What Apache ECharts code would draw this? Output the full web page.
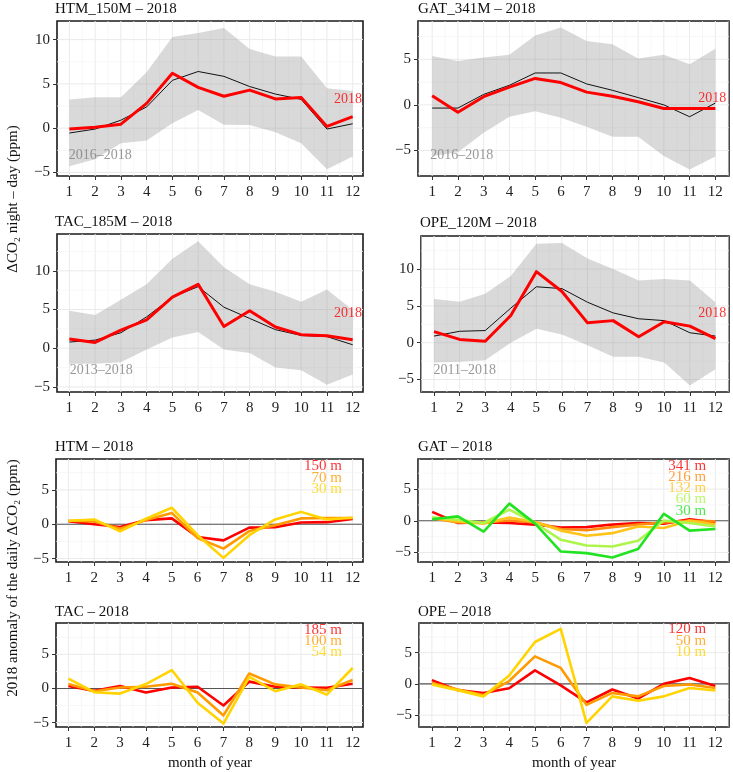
<!DOCTYPE html>
<html><head><meta charset="utf-8">
<script src="https://cdn.jsdelivr.net/npm/echarts@6/dist/echarts.min.js"></script>
<style>html,body{margin:0;padding:0;background:#fff}#c{width:733px;height:772px}</style>
</head><body><div id="c"></div><script>
// ---------- data ----------
const months = [1,2,3,4,5,6,7,8,9,10,11,12];
const yTicksWide = [-5, 0, 5, 10];
const yTicksNarrow = [-5, 0, 5];

// HTM_150M
const htm150Upper = [3.25, 3.5, 3.5, 6.3, 10.3, 10.75, 11.3, 8.95, 8.1, 8.1, 4.5, 4.2];
const htm150Lower = [-4.3, -3.5, -1.7, -1.4, 0.55, 2.05, 0.4, 0.35, -0.45, -1.7, -4.65, -3.2];
const htm150Mean  = [-0.55, -0.1, 0.9, 2.4, 5.4, 6.4, 5.85, 4.7, 3.85, 3.25, -0.1, 0.5];
const htm150Y2018 = [-0.1, 0.1, 0.45, 2.8, 6.2, 4.6, 3.6, 4.3, 3.3, 3.45, 0.2, 1.3];
// GAT_341M
const gat341Upper = [5.36, 4.8, 5.2, 5.5, 7.6, 8.5, 7.0, 6.65, 5.1, 5.5, 4.45, 6.15];
const gat341Lower = [-5.6, -5.2, -3.05, -1.3, -0.7, -1.4, -2.4, -3.5, -3.5, -5.6, -7.1, -5.65];
const gat341Mean  = [-0.35, -0.35, 1.15, 2.15, 3.5, 3.5, 2.3, 1.6, 0.8, 0.0, -1.3, 0.2];
const gat341Y2018 = [1.0, -0.8, 0.9, 1.95, 2.9, 2.45, 1.4, 0.95, 0.35, -0.4, -0.4, -0.4];
// TAC_185M
const tac185Upper = [4.85, 4.3, 6.25, 8.25, 11.55, 13.8, 10.45, 8.25, 7.3, 6.0, 7.6, 4.95];
const tac185Lower = [-2.0, -2.0, -1.8, -0.15, 1.4, 2.1, -0.15, -0.6, -2.5, -2.85, -4.7, -3.4];
const tac185Mean  = [0.8, 1.05, 2.0, 4.05, 6.6, 7.95, 5.3, 3.85, 2.4, 1.65, 1.5, 0.45];
const tac185Y2018 = [1.2, 0.75, 2.35, 3.65, 6.6, 8.25, 2.8, 4.85, 2.75, 1.75, 1.6, 1.1];
// OPE_120M
const ope120Upper = [5.95, 5.55, 6.65, 9.05, 13.45, 13.55, 11.45, 10.0, 8.45, 8.65, 8.45, 5.5];
const ope120Lower = [-2.7, -2.6, -2.4, 0.0, 1.9, 1.1, -0.35, -1.9, -1.9, -2.7, -5.8, -3.6];
const ope120Mean  = [0.9, 1.55, 1.65, 4.7, 7.6, 7.35, 5.5, 4.05, 3.25, 3.0, 1.35, 0.9];
const ope120Y2018 = [1.5, 0.45, 0.2, 3.7, 9.65, 6.95, 2.7, 3.0, 0.8, 2.85, 2.25, 0.55];

// 2018 anomalies by height
const htmA150 = [0.45, 0.0, -0.4, 0.6, 0.85, -1.85, -2.35, -0.5, -0.45, 0.25, 0.3, 0.75];
const htmA70  = [0.5, 0.4, -0.65, 0.6, 1.65, -2.0, -3.55, -1.0, -0.15, 0.85, 0.9, 0.9];
const htmA30  = [0.5, 0.7, -1.05, 0.8, 2.4, -1.6, -4.9, -1.6, 0.7, 1.8, 0.7, 0.95];

const gatA341 = [1.4, -0.35, -0.25, -0.35, -0.6, -1.05, -1.0, -0.6, -0.35, -0.45, 0.25, -0.25];
const gatA216 = [0.4, -0.25, -0.25, 0.05, -0.25, -1.3, -1.5, -1.0, -0.6, -0.25, 0.0, -0.1];
const gatA132 = [0.4, -0.1, -0.45, 0.5, -0.2, -1.55, -2.35, -1.95, -0.9, -1.15, 0.05, -0.6];
const gatA60  = [0.55, 0.15, -0.35, 1.75, -0.35, -3.0, -3.9, -4.05, -3.15, 0.05, -0.35, -0.9];
const gatA30  = [0.25, 0.7, -1.7, 2.7, -0.45, -4.85, -5.1, -5.8, -4.45, 1.1, -1.55, -1.3];

const tacA185 = [0.35, -0.35, 0.35, -0.6, 0.15, 0.25, -2.5, 1.0, 0.25, 0.15, 0.1, 0.7];
const tacA100 = [0.65, -0.4, 0.15, 0.25, 0.7, -0.6, -3.95, 2.2, 0.6, 0.15, -0.25, 1.25];
const tacA54  = [1.45, -0.55, -0.75, 0.65, 2.7, -2.1, -5.15, 1.7, -0.4, 0.6, -0.9, 3.0];

const opeA120 = [0.6, -1.0, -1.45, -0.7, 2.15, -0.25, -2.95, -0.9, -2.35, 0.0, 0.95, -0.35];
const opeA50  = [0.15, -0.9, -1.8, 0.45, 4.4, 2.55, -3.35, -1.45, -2.0, -0.35, -0.1, -0.65];
const opeA10  = [-0.1, -1.0, -2.0, 1.35, 6.7, 8.8, -6.25, -2.0, -2.7, -2.0, -0.65, -1.05];

// ---------- layout ----------
const FONT = 'Liberation Serif';
const layout = [
  {box:[57,21,363,176],  x:[0.52,12.4],  y:[-5.4,12.1],  ticks:yTicksWide,   title:'HTM_150M \u2013 2018', tx:55,  ty:9},
  {box:[418,21,729,176], x:[0.45,12.53], y:[-7.8,9.2],   ticks:yTicksNarrow, title:'GAT_341M \u2013 2018', tx:418, ty:9},
  {box:[57,234,363,392], x:[0.52,12.4],  y:[-5.65,14.75],ticks:yTicksWide,   title:'TAC_185M \u2013 2018', tx:55,  ty:222},
  {box:[421,236,729,392],x:[0.49,12.53], y:[-6.7,14.5],  ticks:yTicksWide,   title:'OPE_120M \u2013 2018', tx:420, ty:223},
  {box:[56,459,363,562], x:[0.52,12.4],  y:[-5.5,9.5],   ticks:yTicksNarrow, title:'HTM \u2013 2018', tx:55,  ty:447},
  {box:[418,459,729,562],x:[0.45,12.53], y:[-6.5,9.74],  ticks:yTicksNarrow, title:'GAT \u2013 2018', tx:418, ty:447},
  {box:[56,623,363,727], x:[0.52,12.4],  y:[-5.65,9.6],  ticks:yTicksNarrow, title:'TAC \u2013 2018', tx:55,  ty:612},
  {box:[419,623,729,727],x:[0.5,12.53],  y:[-6.9,9.74],  ticks:yTicksNarrow, title:'OPE \u2013 2018', tx:418, ty:612}
];

const topPanels = [
  {upper:htm150Upper, lower:htm150Lower, mean:htm150Mean, y2018:htm150Y2018, period:'2016\u20132018', lab2018:[12.38,3.25], labPeriod:[1.0,-3.17]},
  {upper:gat341Upper, lower:gat341Lower, mean:gat341Mean, y2018:gat341Y2018, period:'2016\u20132018', lab2018:[12.44,0.65], labPeriod:[0.95,-5.58]},
  {upper:tac185Upper, lower:tac185Lower, mean:tac185Mean, y2018:tac185Y2018, period:'2013\u20132018', lab2018:[12.38,4.5], labPeriod:[1.03,-2.94]},
  {upper:ope120Upper, lower:ope120Lower, mean:ope120Mean, y2018:ope120Y2018, period:'2011\u20132018', lab2018:[12.44,3.95], labPeriod:[1.0,-3.8]}
];

const bottomPanels = [
  {lines:[htmA150, htmA70, htmA30], names:['150 m','70 m','30 m'], colors:['#FF0000','#FF9A00','#FFD400'], labX:11.6, labY:[8.35,6.6,5.05]},
  {lines:[gatA341, gatA216, gatA132, gatA60, gatA30], names:['341 m','216 m','132 m','60 m','30 m'], colors:['#FF0000','#FF8A10','#FFC419','#ADF54A','#22E322'], labX:11.66, labY:[8.6,6.85,5.1,3.3,1.5]},
  {lines:[tacA185, tacA100, tacA54], names:['185 m','100 m','54 m'], colors:['#FF0000','#FF9A00','#FFD400'], labX:11.6, labY:[8.5,6.85,5.25]},
  {lines:[opeA120, opeA50, opeA10], names:['120 m','50 m','10 m'], colors:['#FF0000','#FF9A00','#FFD400'], labX:11.66, labY:[8.7,6.8,5.0]}
];

// ---------- build ----------
function fmt(v){ return v < 0 ? '\u2212' + Math.abs(v) : String(v); }

const grids = [], xAxes = [], yAxes = [], series = [], graphics = [];

layout.forEach((L, i) => {
  grids.push({left:L.box[0], top:L.box[1], width:L.box[2]-L.box[0], height:L.box[3]-L.box[1],
    show:true, backgroundColor:'#fff', borderColor:'#1a1a1a', borderWidth:1.6, containLabel:false});
  xAxes.push({type:'value', gridIndex:i, min:L.x[0], max:L.x[1], position:'bottom',
    axisLine:{show:false, onZero:false}, splitLine:{show:false},
    axisTick:{show:true, length:4, customValues:months, lineStyle:{color:'#333', width:1}},
    axisLabel:{show:true, customValues:months, margin:9, color:'#222', fontFamily:FONT, fontSize:15, formatter:fmt}});
  yAxes.push({type:'value', gridIndex:i, min:L.y[0], max:L.y[1], position:'left',
    axisLine:{show:false, onZero:false}, splitLine:{show:false},
    axisTick:{show:true, length:4, customValues:L.ticks, lineStyle:{color:'#333', width:1}},
    axisLabel:{show:true, customValues:L.ticks, margin:7, color:'#222', fontFamily:FONT, fontSize:15, formatter:fmt}});

  // grid lines drawn through the axes' scales
  const items = [];
  months.forEach(m => items.push({o:'v', v:m, major:true}));
  months.concat([13]).forEach(m => { const v = m - 0.5; if (v >= L.x[0] && v <= L.x[1]) items.push({o:'v', v:v, major:false}); });
  for (let v = Math.ceil(L.y[0]/2.5)*2.5; v <= L.y[1]; v += 2.5) items.push({o:'h', v:v, major: Math.abs(v % 5) < 1e-9});
  if (i >= 4) items.push({o:'h', v:0, zero:true});
  series.push({type:'custom', xAxisIndex:i, yAxisIndex:i, silent:true, z:1, clip:true,
    data: items.map((it) => it.o === 'v' ? [it.v, (L.y[0]+L.y[1])/2] : [(L.x[0]+L.x[1])/2, it.v]),
    renderItem: function(params, api){
      const it = items[params.dataIndex];
      let p1, p2;
      if (it.o === 'v') { p1 = api.coord([it.v, L.y[0]]); p2 = api.coord([it.v, L.y[1]]); }
      else { p1 = api.coord([L.x[0], it.v]); p2 = api.coord([L.x[1], it.v]); }
      const st = it.zero ? {stroke:'#555', lineWidth:1.1} : (it.major ? {stroke:'#EAEAEA', lineWidth:1} : {stroke:'#F4F4F4', lineWidth:0.7});
      return {type:'line', z2: it.zero ? 5 : 0, shape:{x1:p1[0], y1:p1[1], x2:p2[0], y2:p2[1]}, style:st};
    }});

  graphics.push({type:'text', x:L.tx, y:L.ty, style:{text:L.title, font:'15px "' + FONT + '"', fill:'#111', align:'left', verticalAlign:'middle'}});
});

function textSeries(i, labels, size) {
  return {type:'scatter', xAxisIndex:i, yAxisIndex:i, symbolSize:1, itemStyle:{color:'rgba(0,0,0,0)'}, z:10, silent:true,
    data: labels.map(l => ({value:[l.x, l.y], name:l.text, label:{color:l.color, align:l.align}})),
    label:{show:true, position:[0,0], formatter:'{b}', verticalAlign:'middle', fontFamily:FONT, fontSize:size}};
}

topPanels.forEach((P, i) => {
  const band = months.map((m,k) => [m, P.lower[k], P.upper[k]]);
  series.push({type:'custom', xAxisIndex:i, yAxisIndex:i, silent:true, z:2, clip:true,
    data: band, encode:{x:0, y:[1,2]},
    renderItem: function(params, api){
      if (params.dataIndex !== 0) return null;
      const pts = [];
      for (let k = 0; k < band.length; k++) pts.push(api.coord([band[k][0], band[k][2]]));
      for (let k = band.length-1; k >= 0; k--) pts.push(api.coord([band[k][0], band[k][1]]));
      return {type:'polygon', shape:{points:pts}, style:{fill:'rgba(150,150,150,0.36)'}};
    }});
  series.push({type:'line', xAxisIndex:i, yAxisIndex:i, data: months.map((m,k)=>[m, P.mean[k]]), symbol:'none', silent:true, z:3, clip:true,
    lineStyle:{color:'#111', width:1}, itemStyle:{color:'#111'}});
  series.push({type:'line', xAxisIndex:i, yAxisIndex:i, data: months.map((m,k)=>[m, P.y2018[k]]), symbol:'none', silent:true, z:4, clip:true,
    lineStyle:{color:'#FF0000', width:3, join:'round'}, itemStyle:{color:'#FF0000'}});
  series.push(textSeries(i, [
    {x:P.lab2018[0], y:P.lab2018[1], text:'2018', color:'#FF0000', align:'right'},
    {x:P.labPeriod[0], y:P.labPeriod[1], text:P.period, color:'#808080', align:'left'}
  ], 14));
});

bottomPanels.forEach((P, j) => {
  const i = j + 4;
  P.lines.forEach((vals, k) => {
    series.push({type:'line', xAxisIndex:i, yAxisIndex:i, data: months.map((m,q)=>[m, vals[q]]), symbol:'none', silent:true,
      z: 7 + k * 0.01, clip:true,
      lineStyle:{color:P.colors[k], width:2.6, join:'round'}, itemStyle:{color:P.colors[k]}});
  });
  series.push(textSeries(i, P.names.map((n,k) => ({x:P.labX, y:P.labY[k], text:n, color:P.colors[k], align:'right'})), 15));
});

// axis titles
graphics.push({type:'text', x:13, y:199, rotation:Math.PI/2, style:{text:'\u0394CO\u2082 night \u2013 day (ppm)', font:'15px "' + FONT + '"', fill:'#111', align:'center', verticalAlign:'middle'}});
graphics.push({type:'text', x:13, y:578, rotation:Math.PI/2, style:{text:'2018 anomaly of the daily \u0394CO\u2082 (ppm)', font:'15px "' + FONT + '"', fill:'#111', align:'center', verticalAlign:'middle'}});
graphics.push({type:'text', x:210, y:763, style:{text:'month of year', font:'15px "' + FONT + '"', fill:'#111', align:'center', verticalAlign:'middle'}});
graphics.push({type:'text', x:574, y:763, style:{text:'month of year', font:'15px "' + FONT + '"', fill:'#111', align:'center', verticalAlign:'middle'}});

const chart = echarts.init(document.getElementById('c'), null, {renderer:'canvas'});
chart.setOption({
  animation:false,
  backgroundColor:'#fff',
  textStyle:{fontFamily:FONT},
  grid:grids, xAxis:xAxes, yAxis:yAxes, series:series, graphic:graphics
});
</script></body></html>
